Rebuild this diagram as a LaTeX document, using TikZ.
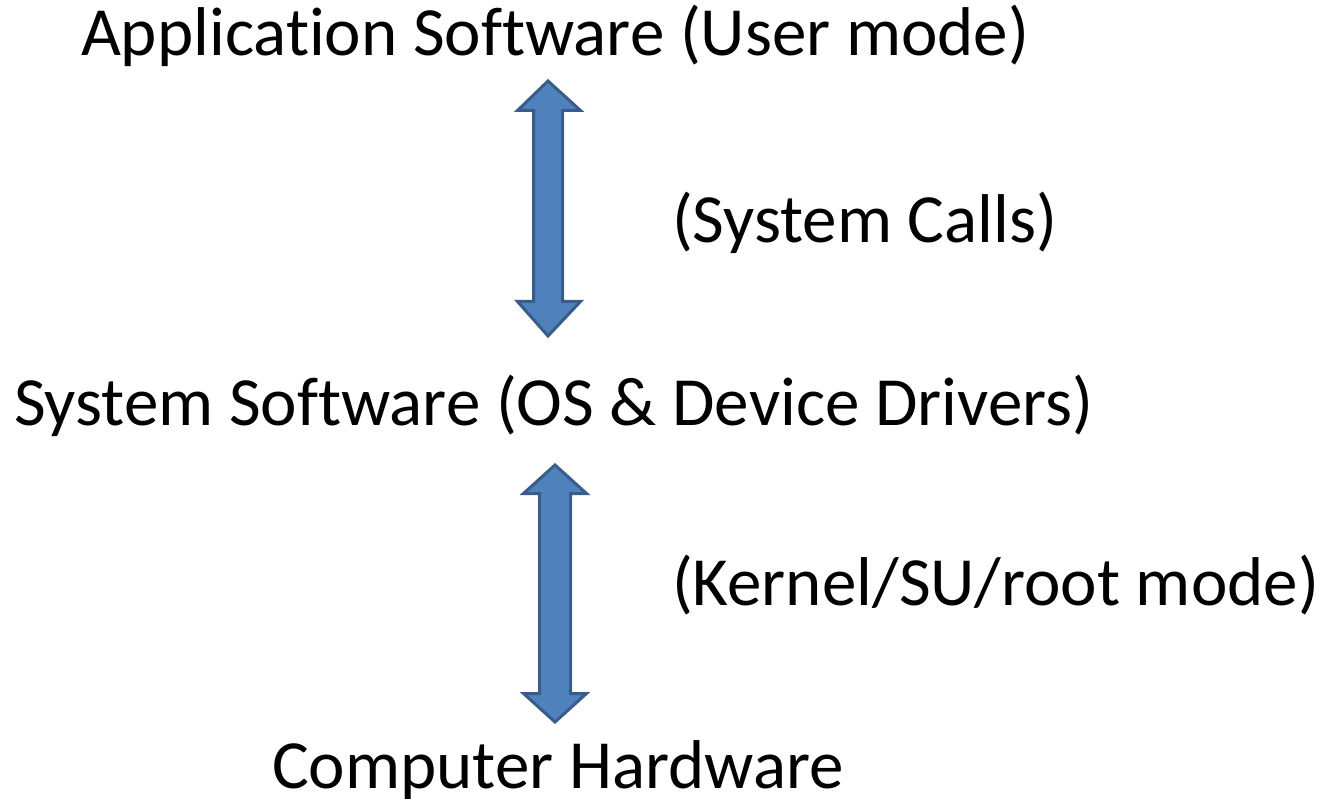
\documentclass[tikz,border=0pt]{standalone}
\usepackage{fontspec}
\setmainfont{Carlito}[RawFeature={-liga;-clig}]
\definecolor{arrfill}{HTML}{4F81BD}
\definecolor{arrline}{HTML}{385D8A}
\tikzset{
  lbl/.style={anchor=base west, inner sep=0pt, outer sep=0pt, font=\fontsize{69}{80}\selectfont},
  dblarrow/.style={fill=arrfill, draw=arrline, line width=3pt, line join=miter},
}
\begin{document}
\begin{tikzpicture}[x=1pt,y=-1pt]
\useasboundingbox (0,0) rectangle (1330,799);
\node[lbl] (app) at (81,56) {Application Software (User mode)};
\node[lbl] (sc) at (672,243) {(System Calls)};
\node[lbl] (sys) at (14,425) {System Software (OS \& Device Drivers)};
\node[lbl] (kern) at (672,605) {(Kernel/SU/root mode)};
\node[lbl] (hw) at (272,788) {Computer Hardware};
% arrow 1
\draw[dblarrow] (548,81) -- (580.5,110.5) -- (562.5,110.5) -- (562.5,301.5) -- (580.5,301.5) -- (548,336)
  -- (517.5,301.5) -- (533.5,301.5) -- (533.5,110.5) -- (517.5,110.5) -- cycle;
% arrow 2
\draw[dblarrow] (555,465) -- (586.5,493.5) -- (570.5,493.5) -- (570.5,693.5) -- (586.5,693.5) -- (555,722)
  -- (523.5,693.5) -- (539.5,693.5) -- (539.5,493.5) -- (523.5,493.5) -- cycle;
\end{tikzpicture}
\end{document}
